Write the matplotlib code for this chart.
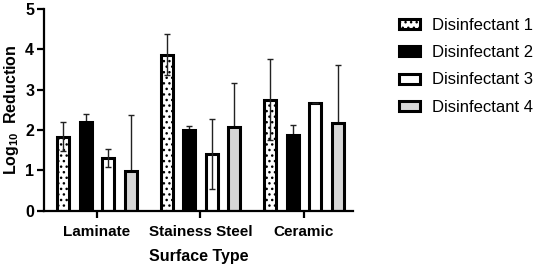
import matplotlib
matplotlib.use("Agg")
import matplotlib.pyplot as plt
import numpy as np

plt.rcParams["font.family"] = ["Liberation Sans", "DejaVu Sans"]
plt.rcParams["mathtext.default"] = "regular"
plt.rcParams["hatch.linewidth"] = 1.0

surfaces = ["Laminate", "Stainess Steel", "Ceramic"]
series = ["Disinfectant 1", "Disinfectant 2", "Disinfectant 3", "Disinfectant 4"]

# log10 reduction per surface (Laminate, Stainless Steel, Ceramic)
d1 = [1.84, 3.87, 2.75]
d2 = [2.19, 1.99, 1.87]
d3 = [1.31, 1.41, 2.66]
d4 = [0.99, 2.07, 2.18]

# error bars (SD)
d1_err = [0.36, 0.51, 1.0]
d2_err = [0.20, 0.10, 0.25]
d3_err = [0.22, 0.87, 0.0]
d4_err = [1.38, 1.09, 1.43]

values = [d1, d2, d3, d4]
errors = [d1_err, d2_err, d3_err, d4_err]
fills = ["white", "black", "white", "#d6d6d6"]
hatches = ["...", None, None, None]
both_sides = [True, False, True, False]

fig = plt.figure(figsize=(5.36, 2.69), dpi=100)
ax = fig.add_axes([0.082, 0.216, 0.576, 0.751])

x = np.arange(len(surfaces))
step = 0.217
width = 0.115
offsets = [-1.5 * step, -0.5 * step, 0.5 * step, 1.5 * step]

for i in range(4):
    pos = x + offsets[i]
    err = np.array(errors[i])
    lower = err if both_sides[i] else np.zeros_like(err)
    if not both_sides[i]:
        ax.errorbar(pos, values[i], yerr=[lower, err], fmt="none", ecolor="#222222",
                    elinewidth=1.0, capsize=2.5, capthick=1.0, zorder=1)
    ax.bar(pos, values[i], width=width, color=fills[i], edgecolor="black",
           linewidth=2.2, hatch=hatches[i], label=series[i], zorder=2)
    if both_sides[i]:
        ax.errorbar(pos, values[i], yerr=[lower, err], fmt="none", ecolor="#222222",
                    elinewidth=1.0, capsize=2.5, capthick=1.0, zorder=3)

ax.set_xlim(-0.512, 2.47)
ax.set_ylim(0, 5)
ax.set_yticks([0, 1, 2, 3, 4, 5])
ax.set_xticks(x)
ax.set_xticklabels(surfaces, fontsize=11, fontweight="bold")
for lab in ax.get_yticklabels():
    lab.set_fontsize(11.5)
    lab.set_fontweight("bold")

ax.spines["top"].set_visible(False)
ax.spines["right"].set_visible(False)
ax.spines["left"].set_linewidth(1.6)
ax.spines["bottom"].set_linewidth(1.6)
ax.tick_params(axis="y", width=1.6, length=5, pad=2)
ax.tick_params(axis="x", width=1.6, length=5, pad=5)

ax.set_xlabel("Surface Type", fontsize=11.5, fontweight="bold", labelpad=7)
ax.set_ylabel("Log$_{10}$  Reduction", fontsize=11.5, fontweight="bold", labelpad=3)

leg = ax.legend(loc="upper left", bbox_to_anchor=(1.10, 1.03), frameon=False,
                fontsize=12, handlelength=1.3, handleheight=0.55,
                handletextpad=0.7, labelspacing=0.74)

fig.savefig("out.png", dpi=100)
